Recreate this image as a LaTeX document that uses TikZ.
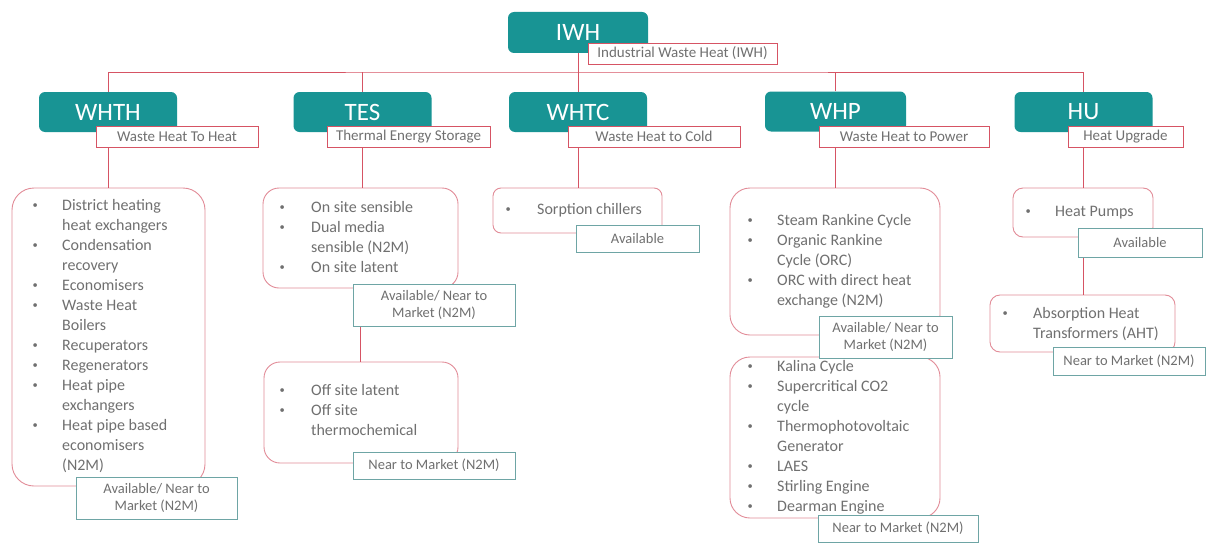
\documentclass[tikz,border=0pt]{standalone}
\usepackage{fontspec}
\setmainfont{Carlito}
\definecolor{teal1}{RGB}{24,148,148}
\definecolor{lred}{RGB}{214,84,100}
\definecolor{lpink}{RGB}{226,140,152}
\definecolor{lteal}{RGB}{110,165,165}
\definecolor{tgray}{RGB}{112,112,112}
\newcommand\bu[1]{\strut\makebox[#1][l]{\hspace*{1.5pt}\raisebox{2.1pt}{\fontsize{10.5}{10.5}\selectfont\textbullet}}}
\newcommand\ct[1]{\strut\hspace*{#1}}
\begin{document}
\begin{tikzpicture}[x=1pt,y=-1pt,
  mainbox/.style={fill=teal1, rounded corners=6pt, text=white, font=\fontsize{25}{28}\selectfont, inner sep=0pt, minimum width=138pt, minimum height=40pt},
  labbox/.style={draw=lred, fill=white, line width=0.8pt, font=\fontsize{15}{16}\selectfont, text=tgray, inner sep=0pt, minimum height=21pt},
  lstbox/.style={draw=lpink, fill=white, line width=0.9pt},
  availbox/.style={draw=lteal, fill=white, line width=0.9pt, font=\fontsize{14.5}{17}\selectfont, text=tgray, align=center, inner sep=0pt},
  items/.style={anchor=north west, inner sep=0pt, align=left, text=tgray, font=\fontsize{16}{20}\selectfont},
  conn/.style={draw=lred, line width=0.9pt}
]
\useasboundingbox (0,0) rectangle (1206,543);
\fill[white] (0,0) rectangle (1206,543);

% main teal boxes
\node[mainbox, minimum width=140pt, minimum height=41pt] (iwh) at (578,32.5) {IWH};
\node[mainbox] (whth) at (108,112) {WHTH};
\node[mainbox] (tes) at (362.5,112) {TES};
\node[mainbox] (whtc) at (578,112) {WHTC};
\node[mainbox, minimum width=141pt] (whp) at (835.5,111.5) {WHP};
\node[mainbox] (hu) at (1083.5,112) {HU};

\coordinate (bus) at (578,72);

% list boxes
\node[lstbox, rounded corners=22pt, minimum width=193pt, minimum height=298pt] (whthL) at (108.5,337) {};
\node[lstbox, rounded corners=16pt, minimum width=195pt, minimum height=100pt] (tesL1) at (360.5,238) {};
\node[lstbox, rounded corners=16pt, minimum width=194pt, minimum height=101pt] (tesL2) at (361,412.5) {};
\node[lstbox, rounded corners=8pt, minimum width=169pt, minimum height=45pt] (whtcL) at (577.5,210.5) {};
\node[lstbox, rounded corners=20pt, minimum width=210pt, minimum height=147pt] (whpL1) at (835,261.5) {};
\node[lstbox, rounded corners=20pt, minimum width=210pt, minimum height=161pt] (whpL2) at (835,437.5) {};
\node[lstbox, rounded corners=10pt, minimum width=140pt, minimum height=49pt] (huL1) at (1083,212.5) {};
\node[lstbox, rounded corners=10pt, minimum width=185pt, minimum height=57pt] (huL2) at (1082.5,323.5) {};

% connectors
\draw[conn] (iwh.south) -- (whtc.north);
\draw[conn] (whth.north) |- (bus) -| (hu.north);
\draw[conn] (tes.north) -- (tes.north |- bus);
\draw[conn] (whp.north) -- (whp.north |- bus);
\draw[conn] (whth.south) -- (whth.south |- whthL.north);
\draw[conn] (tes.south) -- (tes.south |- tesL1.north);
\draw[conn] (tesL1.south) -- (tesL1.south |- tesL2.north);
\draw[conn] (whtc.south) -- (whtc.south |- whtcL.north);
\draw[conn] (whp.south) -- (whp.south |- whpL1.north);
\draw[conn] (hu.south) -- (hu.south |- huL1.north);
\draw[conn] (huL1.south) -- (huL1.south |- huL2.north);

% item texts
\node[items] (whthT) at (31,196.7) {\bu{31pt}District heating\\ \ct{31pt}heat exchangers\\ \bu{31pt}Condensation\\ \ct{31pt}recovery\\ \bu{31pt}Economisers\\ \bu{31pt}Waste Heat\\ \ct{31pt}Boilers\\ \bu{31pt}Recuperators\\ \bu{31pt}Regenerators\\ \bu{31pt}Heat pipe\\ \ct{31pt}exchangers\\ \bu{31pt}Heat pipe based\\ \ct{31pt}economisers\\ \ct{31pt}(N2M)};
\node[items] (tesT1) at (278,198.7) {\bu{33pt}On site sensible\\ \bu{33pt}Dual media\\ \ct{33pt}sensible (N2M)\\ \bu{33pt}On site latent};
\node[items] (tesT2) at (278,381.7) {\bu{33pt}Off site latent\\ \bu{33pt}Off site\\ \ct{33pt}thermochemical};
\node[items] (whtcT) at (504,200.7) {\bu{33pt}Sorption chillers};
\node[items] (whpT1) at (746,211.7) {\bu{31pt}Steam Rankine Cycle\\ \bu{31pt}Organic Rankine\\ \ct{31pt}Cycle (ORC)\\ \bu{31pt}ORC with direct heat\\ \ct{31pt}exchange (N2M)};
\node[items] (whpT2) at (746,357.7) {\bu{31pt}Kalina Cycle\\ \bu{31pt}Supercritical CO2\\ \ct{31pt}cycle\\ \bu{31pt}Thermophotovoltaic\\ \ct{31pt}Generator\\ \bu{31pt}LAES\\ \bu{31pt}Stirling Engine\\ \bu{31pt}Dearman Engine};
\node[items] (huT1) at (1024,202.7) {\bu{31pt}Heat Pumps};
\node[items] (huT2) at (1001,304.7) {\bu{32pt}Absorption Heat\\ \ct{32pt}Transformers (AHT)};

% label boxes
\node[labbox, minimum width=189pt] (iwhLab) at (682.5,53.5) {Industrial Waste Heat (IWH)};
\node[labbox, minimum width=162pt] (whthLab) at (177,136.5) {Waste Heat To Heat};
\node[labbox, minimum width=163pt] (tesLab) at (408.5,136.5) {Thermal Energy Storage};
\node[labbox, minimum width=172pt] (whtcLab) at (654,136.5) {Waste Heat to Cold};
\node[labbox, minimum width=170pt] (whpLab) at (904,136.5) {Waste Heat to Power};
\node[labbox, minimum width=115pt] (huLab) at (1125.5,136.5) {Heat Upgrade};

% availability boxes
\node[availbox, minimum width=161pt, minimum height=42pt] (whthA) at (156.5,498) {Available/ Near to\\Market (N2M)};
\node[availbox, minimum width=162pt, minimum height=42pt] (tesA1) at (434,305) {Available/ Near to\\Market (N2M)};
\node[availbox, minimum width=162pt, minimum height=27pt] (tesA2) at (434,465.5) {Near to Market (N2M)};
\node[availbox, minimum width=123pt, minimum height=27pt] (whtcA) at (637.5,238.5) {Available};
\node[availbox, minimum width=133pt, minimum height=42pt] (whpA1) at (885.5,337) {Available/ Near to\\Market (N2M)};
\node[availbox, minimum width=160pt, minimum height=27pt] (whpA2) at (898,528.5) {Near to Market (N2M)};
\node[availbox, minimum width=124pt, minimum height=29pt] (huA1) at (1140,242.5) {Available};
\node[availbox, minimum width=152pt, minimum height=28pt] (huA2) at (1129,361) {Near to Market (N2M)};
\end{tikzpicture}
\end{document}
